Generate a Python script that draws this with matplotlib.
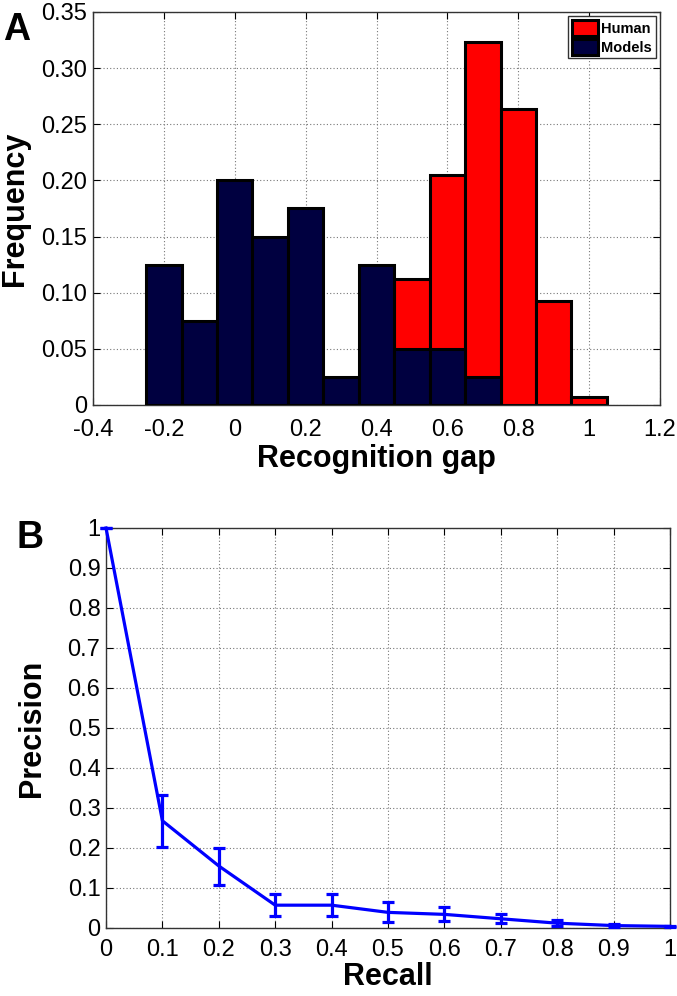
import matplotlib
matplotlib.use("Agg")
import matplotlib.pyplot as plt
from matplotlib.patches import Patch
import numpy as np

plt.rcParams['font.family'] = ['Liberation Sans', 'DejaVu Sans']

# Panel A data
bin_centers_models = [-0.2, -0.1, 0.0, 0.1, 0.2, 0.3, 0.4, 0.5, 0.6, 0.7]
freq_models = [0.125, 0.075, 0.200, 0.150, 0.175, 0.025, 0.125, 0.050, 0.050, 0.025]
bin_centers_human = [0.5, 0.6, 0.7, 0.8, 0.9, 1.0]
freq_human = [0.112, 0.205, 0.323, 0.264, 0.093, 0.007]
bin_width = 0.1
xticks_a = [-0.4, -0.2, 0, 0.2, 0.4, 0.6, 0.8, 1, 1.2]
xticklabels_a = ["-0.4", "-0.2", "0", "0.2", "0.4", "0.6", "0.8", "1", "1.2"]
yticks_a = [0, 0.05, 0.10, 0.15, 0.20, 0.25, 0.30, 0.35]
yticklabels_a = ["0", "0.05", "0.10", "0.15", "0.20", "0.25", "0.30", "0.35"]

# Panel B data
recall = [0.0, 0.1, 0.2, 0.3, 0.4, 0.5, 0.6, 0.7, 0.8, 0.9, 1.0]
precision = [1.0, 0.268, 0.155, 0.057, 0.057, 0.039, 0.034, 0.023, 0.012, 0.006, 0.004]
err_low = [1.0, 0.203, 0.108, 0.030, 0.030, 0.016, 0.017, 0.012, 0.005, 0.002, 0.003]
err_high = [1.0, 0.333, 0.200, 0.086, 0.086, 0.065, 0.053, 0.035, 0.019, 0.010, 0.005]
ticks_b = [0, 0.1, 0.2, 0.3, 0.4, 0.5, 0.6, 0.7, 0.8, 0.9, 1]
ticklabels_b = ["0", "0.1", "0.2", "0.3", "0.4", "0.5", "0.6", "0.7", "0.8", "0.9", "1"]

RED = "#ff0000"
NAVY = "#000040"
BLUE = "#0000ff"
TICK_FS = 17
LABEL_FS = 22

fig = plt.figure(figsize=(6.77, 9.96), dpi=100)

def style(ax, xpad):
    ax.grid(True, linestyle=(0, (1, 2)), color="#777777", linewidth=0.8)
    ax.set_axisbelow(True)
    ax.tick_params(direction="in", length=5, width=0.8, top=True, right=True,
                   labelsize=TICK_FS, colors="black", pad=4)
    ax.tick_params(axis="x", pad=xpad)
    for s in ax.spines.values():
        s.set_linewidth(1.0)
        s.set_color("#333333")

# ---- Panel A ----
axA = fig.add_axes([0.1374, 0.5934, 0.8375, 0.3946])
axA.bar(bin_centers_human, freq_human, width=bin_width, color=RED,
        edgecolor="black", linewidth=2.2, zorder=2)
axA.bar(bin_centers_models, freq_models, width=bin_width, color=NAVY,
        edgecolor="black", linewidth=2.2, zorder=3)
axA.set_xlim(-0.4, 1.2)
axA.set_ylim(0, 0.35)
axA.set_xticks(xticks_a)
axA.set_xticklabels(xticklabels_a)
axA.set_yticks(yticks_a)
axA.set_yticklabels(yticklabels_a)
style(axA, 10)
axA.set_xlabel("Recognition gap", fontsize=LABEL_FS, fontweight="bold", labelpad=2)
axA.set_ylabel("Frequency", fontsize=LABEL_FS, fontweight="bold")
axA.yaxis.set_label_coords(-0.112, 0.5)
handles = [Patch(facecolor=RED, edgecolor="black", linewidth=2.2, label="Human"),
           Patch(facecolor=NAVY, edgecolor="black", linewidth=2.2, label="Models")]
leg = axA.legend(handles=handles, loc="upper right", fancybox=False,
                 prop={"weight": "bold", "size": 10.5}, handlelength=1.8,
                 handleheight=1.3, handletextpad=0.2, borderpad=0.25,
                 labelspacing=0.2, borderaxespad=0.3, framealpha=1)
leg.get_frame().set_edgecolor("#333333")
leg.get_frame().set_linewidth(1.0)

# ---- Panel B ----
axB = fig.add_axes([0.1566, 0.0683, 0.833, 0.4016])
p = np.array(precision)
yerr = np.vstack([p - np.array(err_low), np.array(err_high) - p])
axB.errorbar(recall, precision, yerr=yerr, color=BLUE, linewidth=2.3,
             elinewidth=2.3, capsize=4.5, capthick=2.3, zorder=3, clip_on=False)
axB.set_xlim(0, 1)
axB.set_ylim(0, 1)
axB.set_xticks(ticks_b)
axB.set_xticklabels(ticklabels_b)
axB.set_yticks(ticks_b)
axB.set_yticklabels(ticklabels_b)
style(axB, 8)
axB.set_xlabel("Recall", fontsize=LABEL_FS, fontweight="bold", labelpad=1)
axB.set_ylabel("Precision", fontsize=LABEL_FS, fontweight="bold")
axB.yaxis.set_label_coords(-0.104, 0.5)

fig.text(0.005, 0.988, "A", fontsize=27, fontweight="bold", va="top", ha="left")
fig.text(0.025, 0.478, "B", fontsize=27, fontweight="bold", va="top", ha="left")

fig.savefig("out.png", dpi=100)
